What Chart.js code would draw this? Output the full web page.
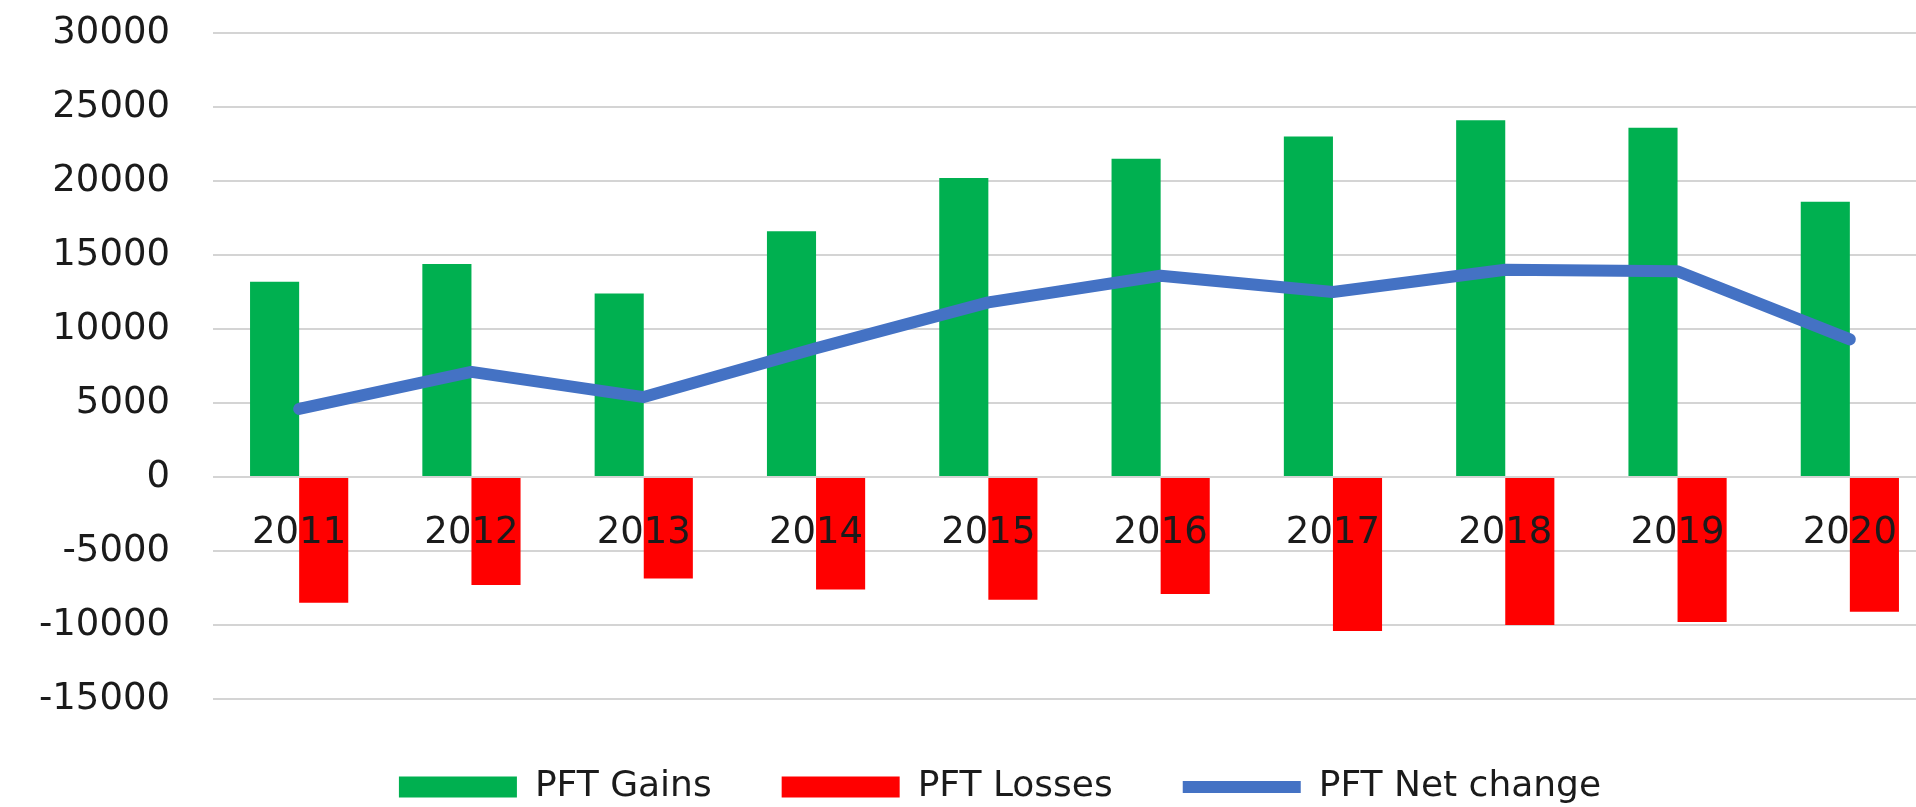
<!DOCTYPE html>
<html>
<head>
<meta charset="utf-8">
<title>PFT gains, losses and net change</title>
<script src="https://cdn.jsdelivr.net/npm/chart.js"></script>
<style>
  html, body { margin: 0; padding: 0; background: #fff; overflow: hidden; }
  #wrap { position: absolute; left: 0; top: 0; }
</style>
</head>
<body>
<div id="wrap"><canvas id="pftChart" width="2000" height="815"></canvas></div>
<script>
const YEARS = ['2011', '2012', '2013', '2014', '2015', '2016', '2017', '2018', '2019', '2020'];
const PFT_GAINS = [13200, 14400, 12400, 16600, 20200, 21500, 23000, 24100, 23600, 18600];
const PFT_LOSSES = [-8500, -7300, -6850, -7600, -8300, -7900, -10400, -10000, -9800, -9100];
const PFT_NET = [4600, 7100, 5400, 8700, 11800, 13600, 12500, 14000, 13900, 9300];
const Y_MIN = -15000;
const Y_MAX = 30000;
const Y_STEP = 5000;

const FONT = 'DejaVu Sans';
const TEXT = '#1b1b1b';

new Chart(document.getElementById('pftChart'), {
    type: 'bar',
    data: {
        labels: YEARS,
        datasets: [{
                label: 'PFT Gains',
                data: PFT_GAINS,
                backgroundColor: '#00b050',
                pointStyle: 'rect',
                order: 1,
            },
            {
                label: 'PFT Losses',
                data: PFT_LOSSES,
                backgroundColor: '#ff0000',
                pointStyle: 'rect',
                order: 1,
            },
            {
                type: 'line',
                label: 'PFT Net change',
                data: PFT_NET,
                borderColor: '#4472c4',
                backgroundColor: '#4472c4',
                borderWidth: 12,
                borderCapStyle: 'round',
                borderJoinStyle: 'round',
                pointRadius: 0,
                pointStyle: 'line',
                tension: 0,
                order: 0,
            }
        ]
    },
    options: {
        responsive: false,
        devicePixelRatio: 1,
        animation: false,
        categoryPercentage: 0.57,
        barPercentage: 1,
        layout: { padding: { top: 33, left: 0, right: 0, bottom: 0 } },
        plugins: {
            tooltip: { enabled: false },
            legend: {
                position: 'bottom',
                labels: {
                    usePointStyle: true,
                    pointStyleWidth: 118,
                    boxHeight: 21,
                    padding: 70,
                    color: TEXT,
                    font: { family: FONT, size: 36 },
                    sort: function(a, b) { return a.datasetIndex - b.datasetIndex; }
                }
            }
        },
        scales: {
            x: {
                position: { y: 0 },
                grid: { display: false },
                border: { display: false },
                ticks: {
                    z: 1,
                    padding: 26,
                    maxRotation: 0,
                    autoSkip: false,
                    color: TEXT,
                    font: { family: FONT, size: 37 }
                }
            },
            y: {
                min: Y_MIN,
                max: Y_MAX,
                // invisible tick marks keep the labels away from the plot
                // without the label padding pushing the plot area down
                grid: { color: '#d4d4d4', lineWidth: 2, drawTicks: true, tickLength: 35, tickColor: 'rgba(0,0,0,0)' },
                border: { display: false },
                ticks: {
                    stepSize: Y_STEP,
                    padding: 8,
                    color: TEXT,
                    font: { family: FONT, size: 37 },
                    callback: function(v) { return String(v); }
                },
                afterFit: function(scale) { scale.width = 213; }
            },
            // empty strip on the right so the plot ends where the reference crops it
            rightPad: {
                position: 'right',
                ticks: { display: false },
                grid: { display: false },
                border: { display: false },
                afterFit: function(scale) { scale.width = 64; }
            }
        }
    }
});
</script>
</body>
</html>
